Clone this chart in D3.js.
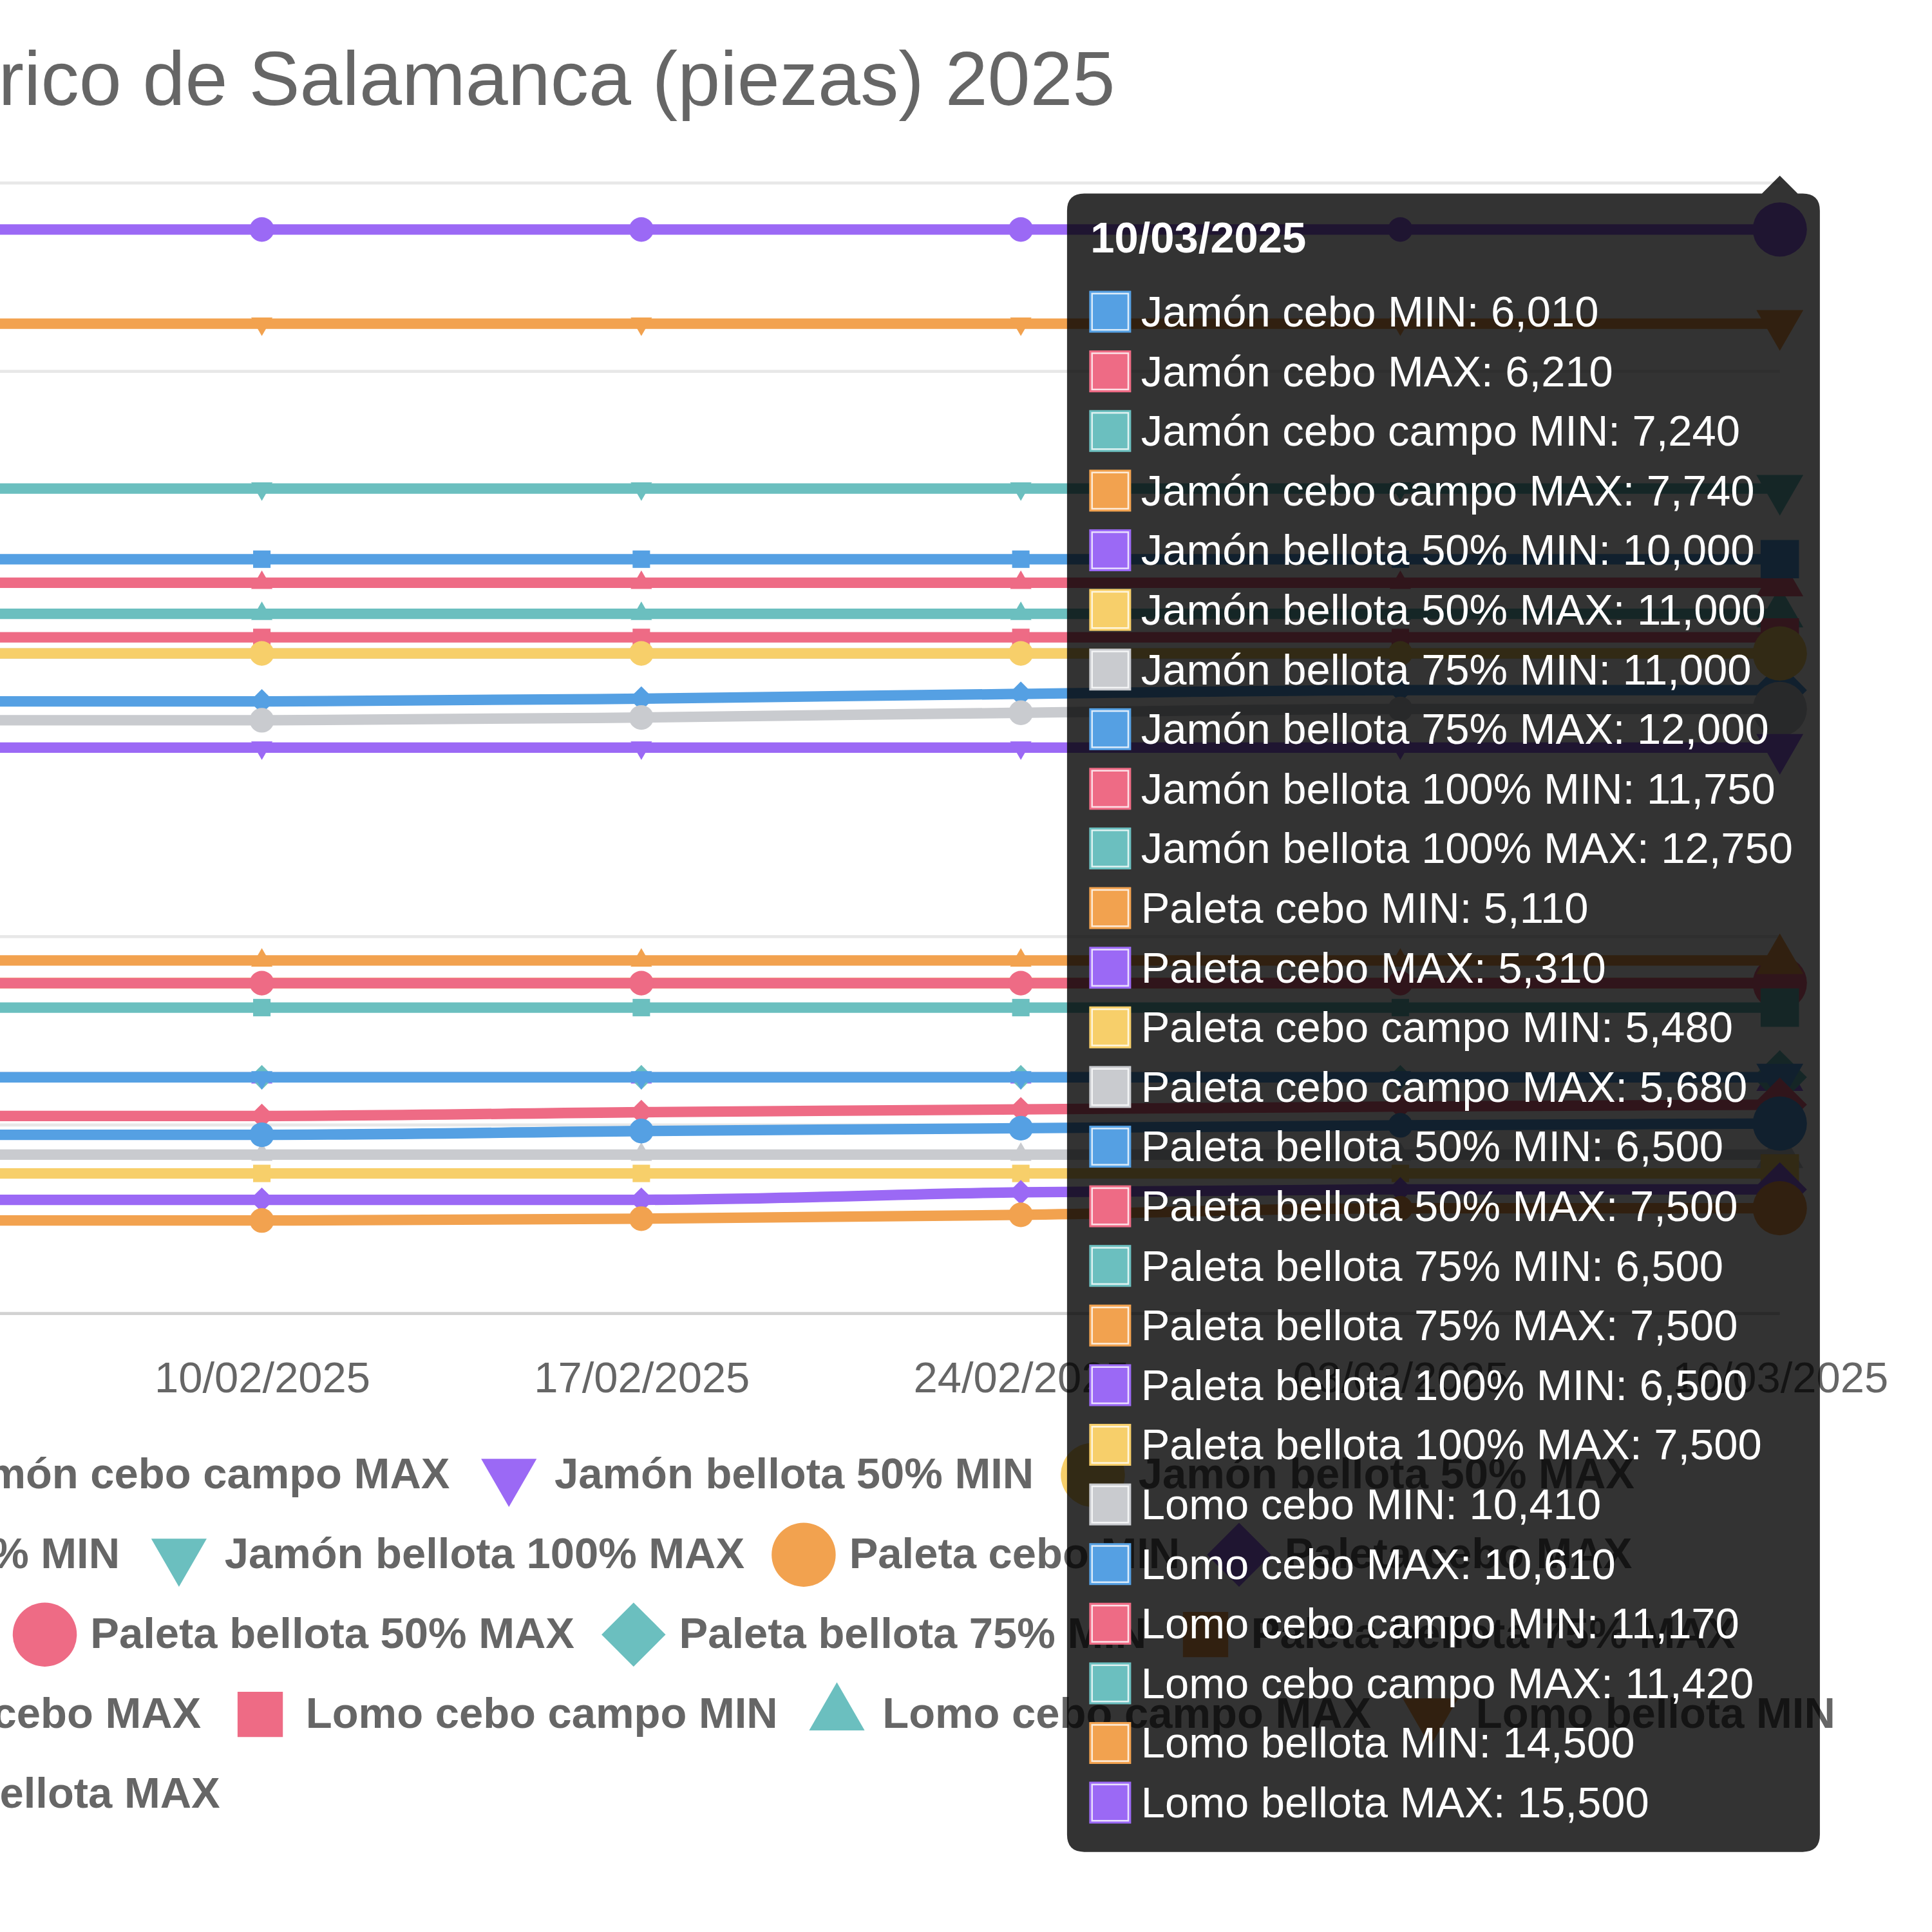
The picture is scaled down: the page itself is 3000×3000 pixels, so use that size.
<!DOCTYPE html>
<html>
<head>
<meta charset="utf-8">
<script src="https://cdn.jsdelivr.net/npm/d3@7"></script>
<style>
  body { margin: 0; background: #fff; }
  svg { display: block; }
</style>
</head>
<body>
<svg id="chart"></svg>
<script>
// ---- data -------------------------------------------------------------
var chartTitle = 'Evolución de precios del cerdo ibérico de Salamanca (piezas) 2025';

var dates = ['03/02/2025', '10/02/2025', '17/02/2025', '24/02/2025', '03/03/2025', '10/03/2025'];

var seriesNames = [
    'Jamón cebo MIN', 'Jamón cebo MAX', 'Jamón cebo campo MIN', 'Jamón cebo campo MAX',
    'Jamón bellota 50% MIN', 'Jamón bellota 50% MAX', 'Jamón bellota 75% MIN', 'Jamón bellota 75% MAX',
    'Jamón bellota 100% MIN', 'Jamón bellota 100% MAX',
    'Paleta cebo MIN', 'Paleta cebo MAX', 'Paleta cebo campo MIN', 'Paleta cebo campo MAX',
    'Paleta bellota 50% MIN', 'Paleta bellota 50% MAX', 'Paleta bellota 75% MIN', 'Paleta bellota 75% MAX',
    'Paleta bellota 100% MIN', 'Paleta bellota 100% MAX',
    'Lomo cebo MIN', 'Lomo cebo MAX', 'Lomo cebo campo MIN', 'Lomo cebo campo MAX',
    'Lomo bellota MIN', 'Lomo bellota MAX'
];

// one row per series, one value per date
var seriesValues = [
    [5890, 5890, 5930, 5960, 5990, 6010],
    [6090, 6090, 6130, 6160, 6190, 6210],
    [7240, 7240, 7240, 7240, 7240, 7240],
    [7740, 7740, 7740, 7740, 7740, 7740],
    [10000, 10000, 10000, 10000, 10000, 10000],
    [11000, 11000, 11000, 11000, 11000, 11000],
    [11000, 11000, 11000, 11000, 11000, 11000],
    [12000, 12000, 12000, 12000, 12000, 12000],
    [11750, 11750, 11750, 11750, 11750, 11750],
    [12750, 12750, 12750, 12750, 12750, 12750],
    [4980, 4980, 5000, 5040, 5110, 5110],
    [5200, 5200, 5200, 5280, 5310, 5310],
    [5480, 5480, 5480, 5480, 5480, 5480],
    [5680, 5680, 5680, 5680, 5680, 5680],
    [6500, 6500, 6500, 6500, 6500, 6500],
    [7500, 7500, 7500, 7500, 7500, 7500],
    [6500, 6500, 6500, 6500, 6500, 6500],
    [7500, 7500, 7500, 7500, 7500, 7500],
    [6500, 6500, 6500, 6500, 6500, 6500],
    [7500, 7500, 7500, 7500, 7500, 7500],
    [10290, 10290, 10320, 10370, 10410, 10410],
    [10490, 10490, 10520, 10570, 10610, 10610],
    [11170, 11170, 11170, 11170, 11170, 11170],
    [11420, 11420, 11420, 11420, 11420, 11420],
    [14500, 14500, 14500, 14500, 14500, 14500],
    [15500, 15500, 15500, 15500, 15500, 15500]
];

var yTicks = [4000, 6000, 8000, 10000, 12000, 14000, 16000];

var palette = ['#55a0e3', '#ee6b85', '#6bbfbf', '#f2a24f', '#9b69f5', '#f7cf6a', '#c9cbcf'];
var pointStyles = ['circle', 'rectRot', 'rect', 'triangle', 'triangleDown'];

// ---- layout (drawn in a 1568 box, shown at 3000px) --------------------
var VIEW = 1568;
var FONT = 'Liberation Sans, Arial, Helvetica, sans-serif';
var plotLeft = -1450, plotRight = 1444.5, plotTop = 148, plotBottom = 1065.5;
var hoverIndex = dates.length - 1;

var svg = d3.select('#chart')
    .attr('width', 3000)
    .attr('height', 3000)
    .attr('viewBox', '0 0 ' + VIEW + ' ' + VIEW)
    .style('font-family', FONT);

svg.append('rect').attr('width', VIEW).attr('height', VIEW).attr('fill', '#fff');

var x = d3.scalePoint().domain(dates).range([-95.5, plotRight]);
var y = d3.scaleLinear().domain([4000, 16000]).range([plotBottom, plotTop]);

function colorOf(i) { return palette[i % palette.length]; }
function styleOf(i) { return pointStyles[i % pointStyles.length]; }

function symbolPath(style, r) {
    var h = r * Math.sqrt(3) / 2;
    switch (style) {
        case 'rect':
            var s = r * Math.SQRT1_2;
            return 'M' + (-s) + ',' + (-s) + 'H' + s + 'V' + s + 'H' + (-s) + 'Z';
        case 'rectRot':
            return 'M0,' + (-r) + 'L' + r + ',0L0,' + r + 'L' + (-r) + ',0Z';
        case 'triangle':
            return 'M0,' + (-r) + 'L' + h + ',' + (r / 2) + 'L' + (-h) + ',' + (r / 2) + 'Z';
        case 'triangleDown':
            return 'M0,' + r + 'L' + h + ',' + (-r / 2) + 'L' + (-h) + ',' + (-r / 2) + 'Z';
        default:
            return 'M' + r + ',0A' + r + ',' + r + ' 0 1,1 ' + (-r) + ',0A' + r + ',' + r + ' 0 1,1 ' + r + ',0Z';
    }
}

// ---- grid (y labels sit off the visible area, so they are left out) -----
var grid = svg.append('g')
    .attr('transform', 'translate(' + plotLeft + ',0)')
    .call(d3.axisLeft(y).tickValues(yTicks).tickSize(-(plotRight - plotLeft)).tickFormat(''));
grid.select('.domain').remove();
grid.selectAll('.tick text').remove();
grid.selectAll('.tick line')
    .attr('stroke', function(d) { return d === 4000 ? '#d2d2d2' : '#e8e8e8'; })
    .attr('stroke-width', 2.5);

// ---- x axis labels --------------------------------------------------------
var xAxis = svg.append('g')
    .attr('transform', 'translate(0,' + plotBottom + ')')
    .call(d3.axisBottom(x).tickSize(0).tickPadding(39.5));
xAxis.select('.domain').remove();
xAxis.selectAll('.tick')
    .filter(function(d) { return x(d) < 0; })
    .remove();
xAxis.selectAll('.tick text')
    .attr('fill', '#666')
    .style('font-family', FONT)
    .style('font-size', '35px');

// ---- title ------------------------------------------------------------------
svg.append('text')
    .attr('x', 905)
    .attr('y', 85)
    .attr('text-anchor', 'end')
    .attr('fill', '#666')
    .style('font-size', '62px')
    .text(chartTitle);

// ---- legend -----------------------------------------------------------------
var legendFont = 35, legendCenter = -4, legendMaxWidth = 3060;
var legendGap = 25, legendTextOffset = 60, legendMarkerOffset = 23;
var legendTop = 1197, legendRowStep = 64.8;

var measure = svg.append('text')
    .style('font-size', legendFont + 'px')
    .style('font-weight', 'bold');
var itemWidths = seriesNames.map(function(name) {
    measure.text(name);
    return legendTextOffset + measure.node().getComputedTextLength();
});
measure.remove();

var rows = [];
var current = [], currentWidth = 0;
seriesNames.forEach(function(name, i) {
    var add = (current.length ? legendGap : 0) + itemWidths[i];
    if (current.length && currentWidth + add > legendMaxWidth) {
        rows.push({ items: current, width: currentWidth });
        current = [];
        currentWidth = 0;
        add = itemWidths[i];
    }
    current.push(i);
    currentWidth += add;
});
rows.push({ items: current, width: currentWidth });

var legend = svg.append('g');
rows.forEach(function(row, r) {
    var cy = legendTop + r * legendRowStep;
    var xs = legendCenter - row.width / 2;
    row.items.forEach(function(i) {
        legend.append('path')
            .attr('d', symbolPath(styleOf(i), 26))
            .attr('transform', 'translate(' + (xs + legendMarkerOffset) + ',' + cy + ')')
            .attr('fill', colorOf(i));
        legend.append('text')
            .attr('x', xs + legendTextOffset)
            .attr('y', cy + 11)
            .attr('fill', '#666')
            .style('font-size', legendFont + 'px')
            .style('font-weight', 'bold')
            .text(seriesNames[i]);
        xs += itemWidths[i] + legendGap;
    });
});

// ---- lines and points (first dataset ends up on top) -------------------
var line = d3.line()
    .x(function(d, j) { return x(dates[j]); })
    .y(function(d) { return y(d); })
    .curve(d3.curveMonotoneX);

var series = svg.append('g');
for (var i = seriesValues.length - 1; i >= 0; i--) {
    var g = series.append('g');
    g.append('path')
        .attr('d', line(seriesValues[i]))
        .attr('fill', 'none')
        .attr('stroke', colorOf(i))
        .attr('stroke-width', 8.5)
        .attr('stroke-linejoin', 'round');
    g.selectAll('path.pt')
        .data(seriesValues[i])
        .enter().append('path')
        .attr('class', 'pt')
        .attr('d', function(d, j) { return symbolPath(styleOf(i), j === hoverIndex ? 22 : 10); })
        .attr('transform', function(d, j) { return 'translate(' + x(dates[j]) + ',' + y(d) + ')'; })
        .attr('fill', colorOf(i));
}

// ---- tooltip ------------------------------------------------------------------
var tipLeft = 866, tipTop = 157, tipBottom = 1503, tipRadius = 14, caret = 14.5;
var tipPad = 17.5, boxLeft = 884, boxSize = 34, textLeft = 926, tipMinRight = 1477;
var firstLine = 253, lineStep = 48.4;
var fmt = d3.format(',');
var caretX = x(dates[hoverIndex]);

var tip = svg.append('g');
var tipPath = tip.append('path').attr('fill', 'rgba(0,0,0,0.8)');

tip.append('text')
    .attr('x', 885)
    .attr('y', 205)
    .attr('fill', '#fff')
    .style('font-size', '35px')
    .style('font-weight', 'bold')
    .text(dates[hoverIndex]);

var maxRight = 0;
seriesNames.forEach(function(name, i) {
    var cy = firstLine + i * lineStep;
    tip.append('rect')
        .attr('x', boxLeft).attr('y', cy - boxSize / 2)
        .attr('width', boxSize).attr('height', boxSize)
        .attr('fill', colorOf(i));
    tip.append('rect')
        .attr('x', boxLeft + 2.3).attr('y', cy - boxSize / 2 + 2.3)
        .attr('width', boxSize - 4.6).attr('height', boxSize - 4.6)
        .attr('fill', 'none')
        .attr('stroke', 'rgba(255,255,255,0.8)')
        .attr('stroke-width', 1.3);
    var t = tip.append('text')
        .attr('x', textLeft)
        .attr('y', cy + 12)
        .attr('fill', '#fff')
        .style('font-size', '35px')
        .text(name + ': ' + fmt(seriesValues[i][hoverIndex]));
    maxRight = Math.max(maxRight, textLeft + t.node().getComputedTextLength());
});

var tipRight = Math.max(maxRight + tipPad, tipMinRight);
var L = tipLeft, R = tipRight, T = tipTop, B = tipBottom, rr = tipRadius;
tipPath.attr('d',
    'M' + (L + rr) + ',' + T +
    'H' + (caretX - caret) + 'L' + caretX + ',' + (T - caret) + 'L' + (caretX + caret) + ',' + T +
    'H' + (R - rr) + 'Q' + R + ',' + T + ' ' + R + ',' + (T + rr) +
    'V' + (B - rr) + 'Q' + R + ',' + B + ' ' + (R - rr) + ',' + B +
    'H' + (L + rr) + 'Q' + L + ',' + B + ' ' + L + ',' + (B - rr) +
    'V' + (T + rr) + 'Q' + L + ',' + T + ' ' + (L + rr) + ',' + T + 'Z');
</script>
</body>
</html>
